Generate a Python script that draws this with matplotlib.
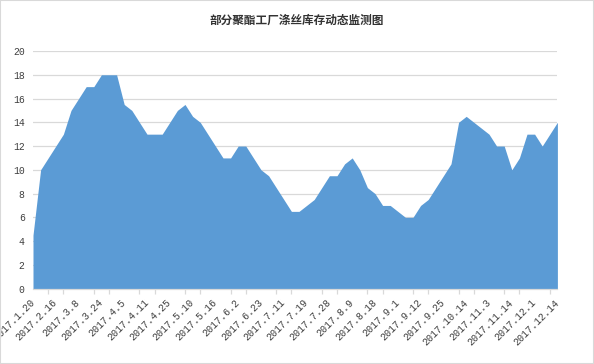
import matplotlib
matplotlib.use('Agg')
import matplotlib.pyplot as plt
from matplotlib.patches import Rectangle

title = '部分聚酯工厂涤丝库存动态监测图'

# one value per survey date (70 points), labels shown on every 3rd point
inventory = [4.5, 10, 11, 12, 13, 15, 16, 17, 17, 18,
             18, 18, 15.5, 15, 14, 13, 13, 13, 14, 15,
             15.5, 14.5, 14, 13, 12, 11, 11, 12, 12, 11,
             10, 9.5, 8.5, 7.5, 6.5, 6.5, 7, 7.5, 8.5, 9.5,
             9.5, 10.5, 11, 10, 8.5, 8, 7, 7, 6.5, 6,
             6, 7, 7.5, 8.5, 9.5, 10.5, 14, 14.5, 14, 13.5,
             13, 12, 12, 10, 11, 13, 13, 12, 13, 14]
date_labels = ['2017.1.20', '2017.2.16', '2017.3.8', '2017.3.24', '2017.4.5',
               '2017.4.11', '2017.4.25', '2017.5.10', '2017.5.16', '2017.6.2',
               '2017.6.23', '2017.7.11', '2017.7.19', '2017.7.28', '2017.8.9',
               '2017.8.18', '2017.9.1', '2017.9.12', '2017.9.25', '2017.10.14',
               '2017.11.3', '2017.11.14', '2017.12.1', '2017.12.14']
label_step = 3
y_ticks = list(range(0, 21, 2))

fill_color = '#5B9BD5'
grid_color = '#d9d9d9'
text_color = '#404040'

fig = plt.figure(figsize=(5.94, 3.64), dpi=100)
ax = fig.add_axes([33 / 594, 1 - 288.6 / 364, (557.4 - 33) / 594, (288.6 - 51) / 364])

x = list(range(len(inventory)))
ax.fill_between(x, inventory, 0, color=fill_color, linewidth=0)

ax.set_xlim(0, len(inventory) - 1)
ax.set_ylim(0, 20)
ax.set_yticks(y_ticks)
ax.yaxis.grid(True, color=grid_color, linewidth=0.9)
ax.set_axisbelow(True)

for s in ['top', 'right', 'left']:
    ax.spines[s].set_visible(False)
ax.spines['bottom'].set_color(grid_color)
ax.spines['bottom'].set_linewidth(0.9)

ax.tick_params(axis='y', length=0, pad=6, labelsize=7, labelcolor=text_color)
for lbl in ax.get_yticklabels():
    lbl.set_family('Liberation Mono')

# labels every 3rd category, tick marks every 2nd
ax.set_xticks(list(range(0, len(inventory), label_step)))
ax.set_xticklabels(date_labels, rotation=45, ha='right', va='center',
                   rotation_mode='anchor', family='Liberation Mono',
                   fontsize=7.2, color=text_color)
ax.tick_params(axis='x', which='major', length=0, pad=9)
ax.set_xticks(list(range(0, len(inventory), 2)), minor=True)
ax.tick_params(axis='x', which='minor', length=3.5, color=grid_color, width=0.9)

fig.text(0.5, 1 - 20 / 364, title, ha='center', va='center', fontsize=8.4,
         fontweight='bold', color='#333333', family=['Noto Sans CJK SC', 'DejaVu Sans'])

fig.patches.append(Rectangle((0, 0), 1, 1, transform=fig.transFigure, fill=False,
                             edgecolor=grid_color, linewidth=1.5))

fig.savefig('out.png', dpi=100)
